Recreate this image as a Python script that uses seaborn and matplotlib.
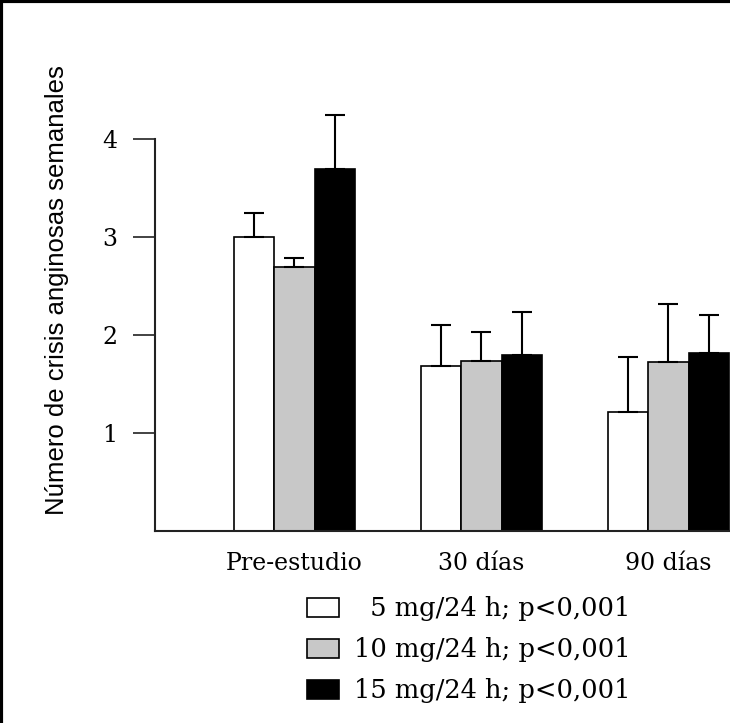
import numpy as np
import pandas as pd
import matplotlib.pyplot as plt
from matplotlib.patches import Patch
from matplotlib.lines import Line2D
import seaborn as sns

# datos
periodos = ['Pre-estudio', '30 días', '90 días']
dosis = ['  5 mg/24 h; p<0,001', '10 mg/24 h; p<0,001', '15 mg/24 h; p<0,001']
media_5 = [3.00, 1.68, 1.22]
media_10 = [2.70, 1.74, 1.73]
media_15 = [3.70, 1.80, 1.82]
error_5 = [0.25, 0.42, 0.56]
error_10 = [0.09, 0.29, 0.59]
error_15 = [0.55, 0.44, 0.39]
colores = ['white', '#c8c8c8', 'black']

sns.set_style('ticks', {'text.color': 'black', 'axes.labelcolor': 'black',
                        'xtick.color': 'black', 'ytick.color': 'black'})
plt.rcParams['font.family'] = ['DejaVu Serif']

df = pd.DataFrame({
    'periodo': periodos * 3,
    'dosis': np.repeat(dosis, 3),
    'crisis': media_5 + media_10 + media_15,
})

fig = plt.figure(figsize=(7.3, 7.23), dpi=100)
ax = fig.add_axes([155 / 730, 192 / 723, 575 / 730, 426 / 723])

sns.barplot(data=df, x='periodo', y='crisis', hue='dosis', hue_order=dosis,
            order=periodos, palette=dict(zip(dosis, colores)), width=0.65,
            edgecolor='black', linewidth=1.2, errorbar=None, legend=False,
            saturation=1, ax=ax)

# barras de error (solo hacia arriba)
for cont, err in zip(ax.containers, [error_5, error_10, error_15]):
    xs = [b.get_x() + b.get_width() / 2 for b in cont]
    ys = [b.get_height() for b in cont]
    ax.errorbar(xs, ys, yerr=[np.zeros(len(err)), err], fmt='none',
                ecolor='black', elinewidth=1.5, capsize=7, capthick=1.5, zorder=1)

ax.set_xlim(-0.745, 2.33)
ax.set_ylim(0, 4.35)
ax.set_yticks([1, 2, 3, 4])
ax.set_xlabel('')
ax.set_ylabel('Número de crisis anginosas semanales', family='Liberation Sans',
              fontsize=18.5, color='black')
ax.yaxis.set_label_coords(-0.15, 0.565)

sns.despine(ax=ax)
ax.spines['left'].set_bounds(0, 4)
for s in ['left', 'bottom']:
    ax.spines[s].set_linewidth(1.5)
    ax.spines[s].set_color('#222222')
ax.tick_params(axis='y', length=16, width=1.2, pad=11, labelsize=17,
               color='#222222', labelcolor='black')
ax.tick_params(axis='x', length=0, pad=15, labelsize=17, labelcolor='black')

handles = [Patch(facecolor=c, edgecolor='black', linewidth=1.2) for c in colores]
fig.legend(handles, dosis, loc='upper left', bbox_to_anchor=(0.42, 0.175),
           frameon=False, fontsize=18.5, handlelength=1.25, handleheight=0.78,
           handletextpad=0.6, labelspacing=0.62, borderpad=0, borderaxespad=0,
           labelcolor='black')

# marco superior e izquierdo
fig.add_artist(Line2D([0, 1], [0.998, 0.998], transform=fig.transFigure, color='black', lw=3))
fig.add_artist(Line2D([0.002, 0.002], [0, 1], transform=fig.transFigure, color='black', lw=3))

plt.savefig('out.png', dpi=100)
